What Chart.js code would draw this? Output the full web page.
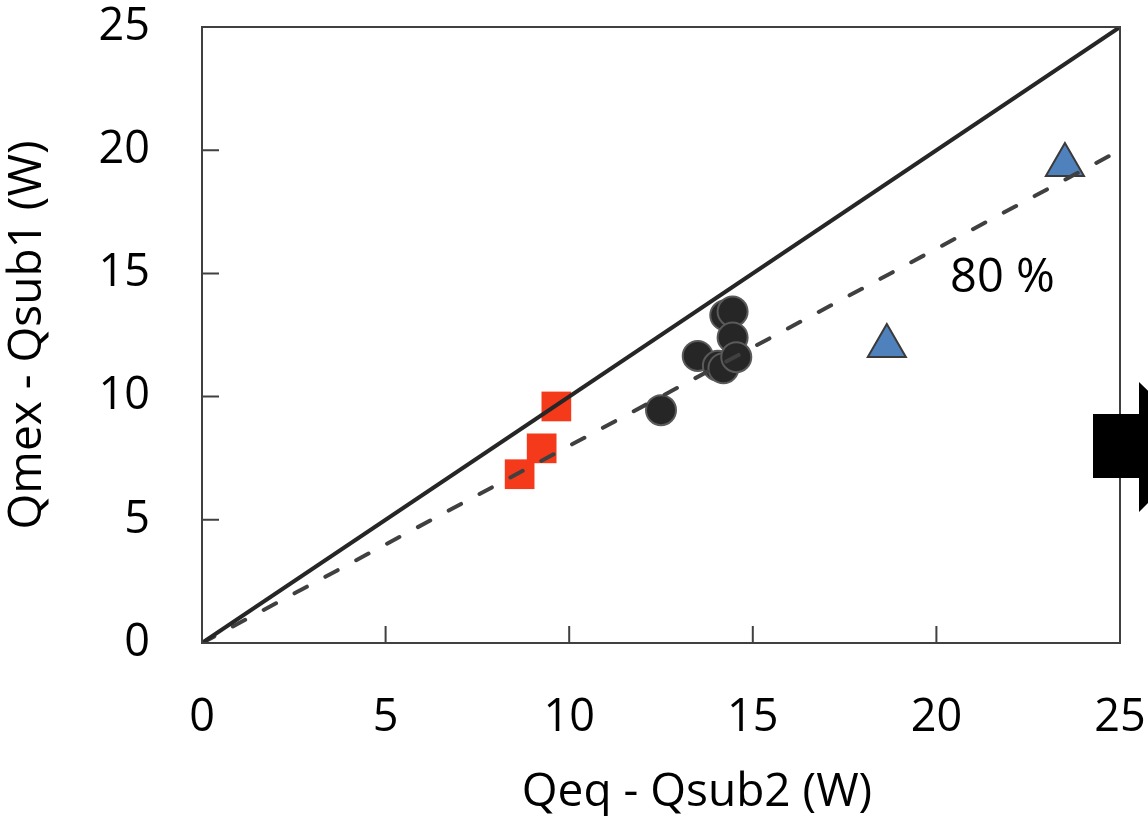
<!DOCTYPE html>
<html>
<head>
<meta charset="utf-8">
<script src="https://cdn.jsdelivr.net/npm/chart.js@4.4.1/dist/chart.umd.min.js"></script>
<style>
  html, body { margin: 0; padding: 0; background: #fff; }
  #wrap { width: 1148px; height: 816px; }
</style>
</head>
<body>
<div id="wrap"><canvas id="myChart" width="1148" height="816"></canvas></div>
<script>
// axis ticks
const xTicks = [0, 5, 10, 15, 20, 25];
const yTicks = [0, 5, 10, 15, 20, 25];

// reference lines
const lineX = [0, 25];
const oneToOneY = [0, 25];
const eightyX = [0, 25];
const eightyY = [0, 20];

// measured points
const circleX = [12.5, 13.5, 14.05, 14.2, 14.25, 14.45, 14.45, 14.55];
const circleY = [9.45, 11.65, 11.25, 11.15, 13.3, 13.45, 12.4, 11.6];
const squareX = [9.65, 9.25, 8.65];
const squareY = [9.6, 7.9, 6.85];
const triX = [23.5, 18.65];
const triY = [19.4, 12.05];

const fontFam = "'Open Sans', 'Liberation Sans', sans-serif";
const toPts = (xs, ys) => xs.map((x, i) => ({ x: x, y: ys[i] }));

const ctx = document.getElementById("myChart");

const framePlugin = {
  id: "frame",
  afterDraw(chart) {
    const c = chart.ctx;
    const a = chart.chartArea;
    const xs = chart.scales.x;
    const ys = chart.scales.y;
    c.save();
    c.strokeStyle = "#404040";
    c.lineWidth = 2;
    c.strokeRect(a.left, a.top, a.right - a.left, a.bottom - a.top);
    // inward tick marks
    c.beginPath();
    yTicks.forEach((v) => {
      const p = ys.getPixelForValue(v);
      c.moveTo(a.left, p);
      c.lineTo(a.left + 17, p);
    });
    xTicks.forEach((v) => {
      const p = xs.getPixelForValue(v);
      c.moveTo(p, a.bottom);
      c.lineTo(p, a.bottom - 17);
    });
    c.stroke();

    // 80 % label
    c.fillStyle = "#000";
    c.font = "47px " + fontFam;
    c.textAlign = "center";
    c.textBaseline = "alphabetic";
    c.fillText("80 %", xs.getPixelForValue(21.8), ys.getPixelForValue(14.25));

    // x axis title
    c.font = "46px " + fontFam;
    c.fillText("Qeq - Qsub2 (W)", (a.left + a.right) / 2 + 36, 806);

    // arrow on the right edge
    c.fillStyle = "#000";
    c.beginPath();
    const bx = a.right - 27;
    const mid = 446;
    c.moveTo(bx, mid - 32);
    c.lineTo(a.right + 19, mid - 32);
    c.lineTo(a.right + 19, mid - 64);
    c.lineTo(a.right + 85, mid);
    c.lineTo(a.right + 19, mid + 66);
    c.lineTo(a.right + 19, mid + 32);
    c.lineTo(bx, mid + 32);
    c.closePath();
    c.fill();
    c.restore();
  },
};

new Chart(ctx, {
  type: "scatter",
  data: {
    datasets: [
      {
        label: "1:1",
        data: toPts(lineX, oneToOneY),
        showLine: true,
        borderColor: "#262626",
        borderWidth: 4,
        pointRadius: 0,
      },
      {
        label: "80 %",
        data: toPts(eightyX, eightyY),
        showLine: true,
        borderColor: "#404040",
        borderWidth: 4,
        borderDash: [14, 21],
        borderCapStyle: "round",
        pointRadius: 0,
      },
      {
        label: "squares",
        data: toPts(squareX, squareY),
        pointStyle: "rect",
        pointRadius: 21,
        backgroundColor: "#F43A1B",
        borderColor: "#F43A1B",
        borderWidth: 0,
      },
      {
        label: "circles",
        data: toPts(circleX, circleY),
        pointStyle: "circle",
        pointRadius: 15,
        backgroundColor: "#262626",
        borderColor: "#5a5a5a",
        borderWidth: 2,
      },
      {
        label: "triangles",
        data: toPts(triX, triY),
        pointStyle: "triangle",
        pointRadius: 22,
        backgroundColor: "#4F81BD",
        borderColor: "#3a3a3a",
        borderWidth: 2,
      },
    ],
  },
  options: {
    responsive: false,
    animation: false,
    events: [],
    layout: { padding: { top: 27, right: 28, left: 0, bottom: 0 } },
    plugins: {
      legend: { display: false },
      tooltip: { enabled: false },
    },
    scales: {
      x: {
        type: "linear",
        min: 0,
        max: 25,
        afterBuildTicks: (s) => { s.ticks = xTicks.map((v) => ({ value: v })); },
        afterFit: (s) => {
          s.height = 173;
          s.paddingLeft = 0;
          s.paddingRight = 0;
        },
        grid: { display: false, drawTicks: false },
        border: { display: false },
        ticks: {
          padding: 48,
          color: "#000",
          font: { family: fontFam, size: 45 },
          maxRotation: 0,
        },
      },
      y: {
        type: "linear",
        min: 0,
        max: 25,
        afterBuildTicks: (s) => { s.ticks = yTicks.map((v) => ({ value: v })); },
        afterFit: (s) => {
          s.width = 202;
          s.paddingTop = 0;
          s.paddingBottom = 0;
        },
        grid: { display: false, drawTicks: false },
        border: { display: false },
        ticks: {
          padding: 52,
          color: "#000",
          font: { family: fontFam, size: 45 },
        },
        title: {
          display: true,
          text: "Qmex - Qsub1 (W)",
          color: "#000",
          font: { family: fontFam, size: 46 },
          padding: 0,
        },
      },
    },
  },
  plugins: [framePlugin],
});
</script>
</body>
</html>
